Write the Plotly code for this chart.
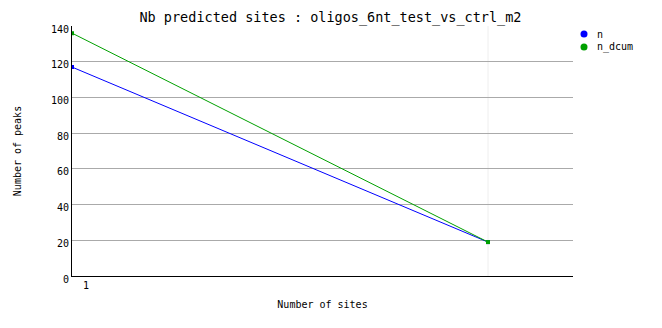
import plotly.graph_objects as go

# Data
series_names = ["n", "n_dcum"]
series_colors = ["#0000ff", "#00a000"]
x_sites = [0, 1]
n_values = [117, 19]
n_dcum_values = [136, 19]
x_tick_labels = ["1"]
y_tick_values = [0, 20, 40, 60, 80, 100, 120, 140]

FONT = "DejaVu Sans Mono"
W, H = 662, 328

fig = go.Figure()
for name, color, vals in zip(series_names, series_colors, [n_values, n_dcum_values]):
    fig.add_trace(go.Scatter(
        x=x_sites, y=vals, mode="lines+markers", name=name,
        line=dict(color=color, width=1),
        marker=dict(symbol="square", size=4, color=color, line=dict(width=0)),
        showlegend=False, hoverinfo="skip"))

# faint vertical line at last category
fig.add_shape(type="line", xref="x", yref="paper", x0=x_sites[-1], x1=x_sites[-1],
              y0=0, y1=1, line=dict(color="#eeeeee", width=1), layer="below")

# manual legend (symbols + text), positioned in container pixels
for i, (name, color) in enumerate(zip(series_names, series_colors)):
    cy = 34 + 13 * i
    fig.add_shape(type="circle", xref="paper", yref="paper",
                  x0=(584 - 3.5 - 72) / 501, x1=(584 + 3.5 - 72) / 501,
                  y0=(276 - (cy + 3.5)) / 250, y1=(276 - (cy - 3.5)) / 250,
                  fillcolor=color, line=dict(width=0))
    fig.add_annotation(text=name, xref="paper", yref="paper",
                       x=(595 - 72) / 501, y=(276 - cy) / 250,
                       xanchor="left", yanchor="middle", showarrow=False,
                       font=dict(family=FONT, size=10, color="black"))

fig.update_layout(
    width=W, height=H,
    margin=dict(l=72, r=89, t=26, b=52),
    paper_bgcolor="white", plot_bgcolor="white",
    font=dict(family=FONT, size=10, color="black"),
    title=dict(text="Nb predicted sites : oligos_6nt_test_vs_ctrl_m2",
               font=dict(family=FONT, size=13.5, color="black"),
               x=(143 + 518) / 2 / W, xanchor="center", y=1 - 17 / H, yanchor="middle"),
    showlegend=False,
)
fig.update_xaxes(
    range=[0, 501 / 416], showgrid=False, zeroline=False,
    showline=True, linecolor="black", linewidth=1,
    tickvals=[14 / 416], ticktext=x_tick_labels, ticks="",
    title=dict(text="Number of sites", standoff=10, font=dict(family=FONT, size=10)),
    tickfont=dict(family=FONT, size=10),
)
fig.update_yaxes(
    range=[0, 140], tickvals=y_tick_values, showgrid=True, gridcolor="#aaaaaa", gridwidth=1,
    zeroline=False, showline=True, linecolor="black", linewidth=1, ticks="",
    ticklabelshift=3,
    title=dict(text="Number of peaks", standoff=27, font=dict(family=FONT, size=10)),
    tickfont=dict(family=FONT, size=10),
)
fig.write_html("out.html")
